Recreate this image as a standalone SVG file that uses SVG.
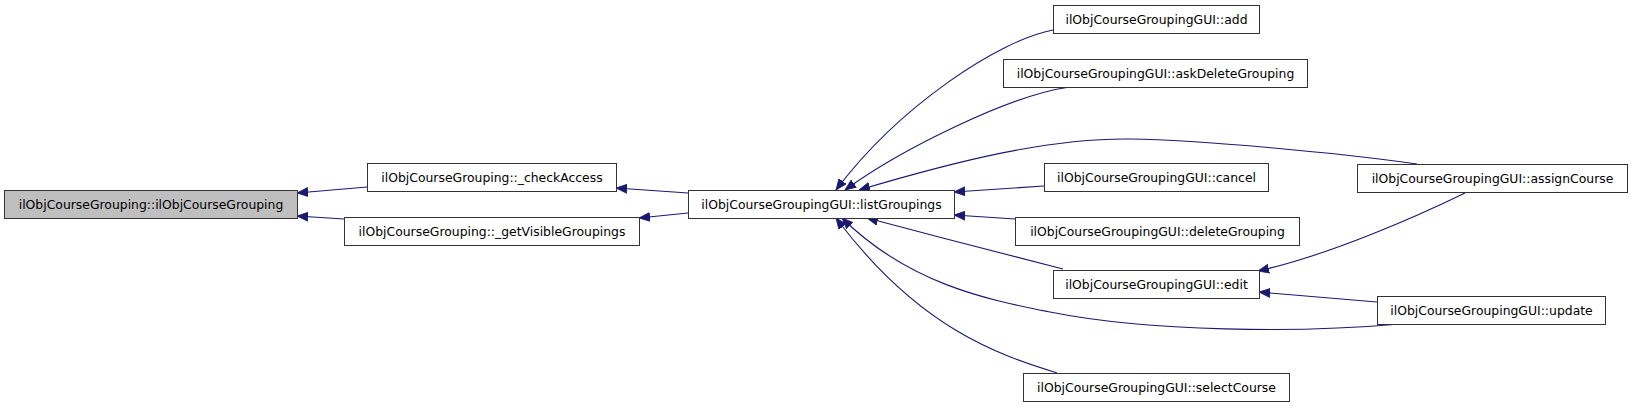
<svg xmlns="http://www.w3.org/2000/svg" width="1632" height="408" viewBox="0 0 1632 408">
<style>
.n rect{fill:#ffffff;stroke:#333333;stroke-width:1}
.n.root rect{fill:#bfbfbf}
.n text{font-family:"DejaVu Sans",sans-serif;font-size:12.4px;fill:#000000;text-anchor:middle}
.e path{fill:none;stroke:#191970;stroke-width:1.1;marker-end:url(#ah)}
</style>
<defs>
<marker id="ah" markerUnits="userSpaceOnUse" markerWidth="12" markerHeight="10" refX="11" refY="4.5" orient="auto" viewBox="0 0 12 9">
<path d="M0,0 L11,4.5 L0,9 z" fill="#191970" stroke="#191970" stroke-width="0.8"/>
</marker>
</defs>
<rect width="1632" height="408" fill="#ffffff"/>
<g id="edges" class="e">
<path d="M367,187 L297,193"/>
<path d="M344,219 L297,216"/>
<path d="M688,193 L616,188"/>
<path d="M688,213 L639,218"/>
<path d="M1053,30 C1000,40 900,105 836,190"/>
<path d="M1070,87 C1010,95 900,150 845,190"/>
<path d="M1417,164 C1340,153 1200,140 1130,139 C1050,138 960,160 859,190"/>
<path d="M1044,186 L954,192"/>
<path d="M1015,219 L954,215"/>
<path d="M1063,269 C1020,258 930,235 867,218"/>
<path d="M1400,324 C1300,333 1150,332 1050,312 C990,300 910,285 842,218"/>
<path d="M1057,373 C1000,355 920,330 836,218"/>
<path d="M1465,193 C1420,215 1330,255 1258,271"/>
<path d="M1377,302 L1259,292"/>
</g>
<g id="n_main" class="n root"><rect x="4.5" y="190.5" width="293" height="28"/><text x="151" y="209">ilObjCourseGrouping::ilObjCourseGrouping</text></g>
<g id="n_checkAccess" class="n"><rect x="367.5" y="163.5" width="249" height="28"/><text x="492" y="182">ilObjCourseGrouping::_checkAccess</text></g>
<g id="n_getVisible" class="n"><rect x="344.5" y="217.5" width="295" height="28"/><text x="492" y="236">ilObjCourseGrouping::_getVisibleGroupings</text></g>
<g id="n_listGroupings" class="n"><rect x="688.5" y="190.5" width="266" height="28"/><text x="821.5" y="209">ilObjCourseGroupingGUI::listGroupings</text></g>
<g id="n_add" class="n"><rect x="1053.5" y="5.5" width="206" height="28"/><text x="1156.5" y="24">ilObjCourseGroupingGUI::add</text></g>
<g id="n_askDelete" class="n"><rect x="1003.5" y="59.5" width="304" height="28"/><text x="1155.5" y="78">ilObjCourseGroupingGUI::askDeleteGrouping</text></g>
<g id="n_cancel" class="n"><rect x="1044.5" y="163.5" width="224" height="28"/><text x="1156.5" y="182">ilObjCourseGroupingGUI::cancel</text></g>
<g id="n_deleteGrouping" class="n"><rect x="1015.5" y="217.5" width="284" height="28"/><text x="1157.5" y="236">ilObjCourseGroupingGUI::deleteGrouping</text></g>
<g id="n_edit" class="n"><rect x="1053.5" y="270.5" width="206" height="28"/><text x="1156.5" y="289">ilObjCourseGroupingGUI::edit</text></g>
<g id="n_selectCourse" class="n"><rect x="1023.5" y="373.5" width="266" height="28"/><text x="1156.5" y="392">ilObjCourseGroupingGUI::selectCourse</text></g>
<g id="n_assignCourse" class="n"><rect x="1357.5" y="164.5" width="270" height="28"/><text x="1492.5" y="183">ilObjCourseGroupingGUI::assignCourse</text></g>
<g id="n_update" class="n"><rect x="1377.5" y="296.5" width="228" height="28"/><text x="1491.5" y="315">ilObjCourseGroupingGUI::update</text></g>
</svg>
